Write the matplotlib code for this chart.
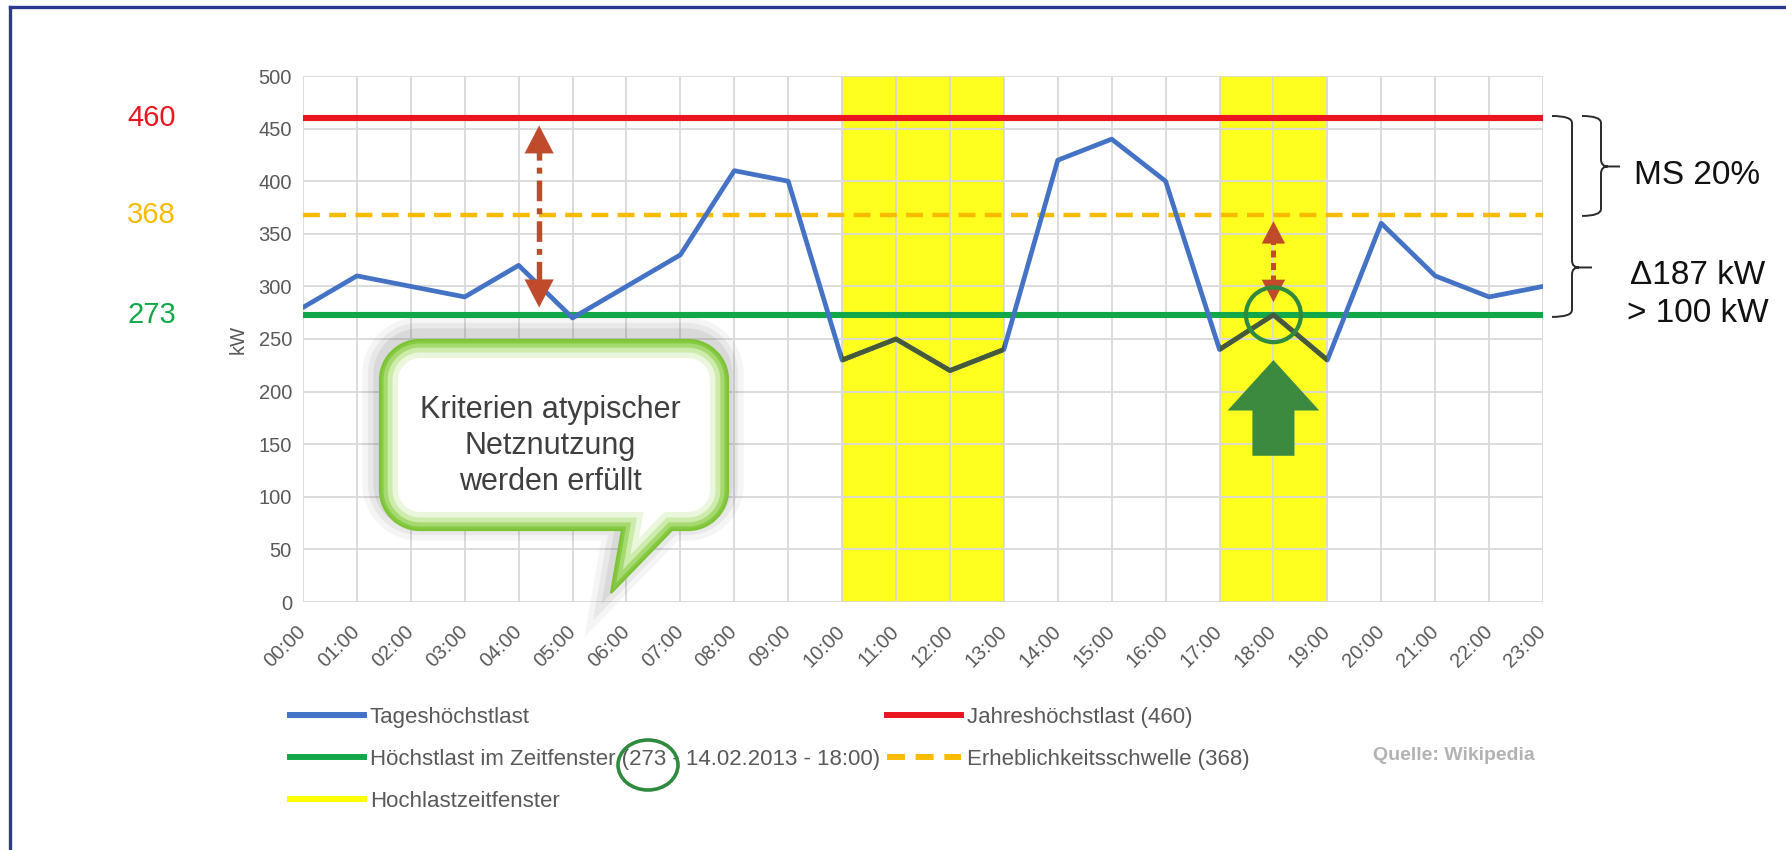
import matplotlib
matplotlib.use("Agg")
import matplotlib.pyplot as plt
import matplotlib.transforms as mtransforms
from matplotlib.path import Path
from matplotlib.patches import PathPatch, Polygon, Ellipse, Rectangle
from matplotlib.lines import Line2D

# ---------------- data ----------------
hours = ["00:00", "01:00", "02:00", "03:00", "04:00", "05:00", "06:00", "07:00",
         "08:00", "09:00", "10:00", "11:00", "12:00", "13:00", "14:00", "15:00",
         "16:00", "17:00", "18:00", "19:00", "20:00", "21:00", "22:00", "23:00"]
load_kw = [280, 310, 300, 290, 320, 270, 300, 330, 410, 400, 230, 250,
           220, 240, 420, 440, 400, 240, 273, 230, 360, 310, 290, 300]
annual_peak = 460
threshold = 368
window_peak = 273
window_peak_idx = 18
high_load_windows = [(10, 13), (17, 19)]
y_ticks = [0, 50, 100, 150, 200, 250, 300, 350, 400, 450, 500]
legend_labels = ["Tageshöchstlast",
                 "Höchstlast im Zeitfenster (273 - 14.02.2013 - 18:00)",
                 "Hochlastzeitfenster",
                 "Jahreshöchstlast (460)",
                 "Erheblichkeitsschwelle (368)"]
level_labels = ["460", "368", "273"]
bubble_lines = ["Kriterien atypischer", "Netznutzung", "werden erfüllt"]

# ---------------- style ----------------
BLUE = "#4472c4"
BLUE_IN_WINDOW = "#46593a"
RED = "#ea1520"
GREEN = "#12a84a"
ORANGE = "#f8bb00"
YELLOW = "#ffff1f"
GREY = "#595959"
GRID = "#d9d9d9"
ARROW_RED = "#bf4a2c"
DARK_GREEN = "#2f8a3e"
NAVY = "#2b3a8f"

plt.rcParams["font.family"] = ["Liberation Sans", "DejaVu Sans"]

W, H = 1786, 850
fig = plt.figure(figsize=(W / 100, H / 100), dpi=100)
fig.patch.set_facecolor("white")
ax = fig.add_axes([303 / W, 1 - 602 / H, (1543 - 303) / W, (602 - 76) / H])

px = mtransforms.Affine2D().scale(1 / W, -1 / H).translate(0, 1) + fig.transFigure
bx = mtransforms.blended_transform_factory(px, ax.transData)

x = list(range(len(hours)))

# bands
for a, b in high_load_windows:
    ax.axvspan(a, b, color=YELLOW, zorder=0.3, lw=0)

# horizontal reference lines
ax.hlines(annual_peak, x[0], x[-1], color=RED, lw=4.4, zorder=2.5)
ax.hlines(window_peak, x[0], x[-1], color=GREEN, lw=4.4, zorder=2.5)
ax.hlines(threshold, x[0], x[-1], color=ORANGE, lw=3.2, zorder=2.6,
          linestyles=[(0, (3.8, 2.1))])

# daily peak load
ax.plot(x, load_kw, color=BLUE, lw=3.4, zorder=3, solid_joinstyle="round",
        solid_capstyle="round")
for a, b in high_load_windows:
    ln, = ax.plot(x, load_kw, color=BLUE_IN_WINDOW, lw=3.4, zorder=3.1,
                  solid_joinstyle="round")
    clip = Rectangle((a, -100), b - a, 800, transform=ax.transData)
    ln.set_clip_path(clip)

# axes styling
ax.set_xlim(x[0], x[-1])
ax.set_ylim(y_ticks[0], y_ticks[-1])
ax.set_yticks(y_ticks)
ax.set_xticks(x)
ax.set_xticklabels(hours, rotation=45, ha="right", va="center",
                   rotation_mode="anchor")
ax.tick_params(axis="both", length=0, labelsize=14.5, labelcolor=GREY)
ax.tick_params(axis="x", pad=19)
ax.tick_params(axis="y", pad=8)
ax.grid(True, color=GRID, lw=1.3)
ax.set_axisbelow(True)
for s in ax.spines.values():
    s.set_visible(False)
ax.set_ylabel("kW", fontsize=14.5, color=GREY, labelpad=8)

# level labels on the left
for txt, val, col in zip(level_labels, [annual_peak, threshold, window_peak],
                         [RED, ORANGE, GREEN]):
    ax.text(176, val, txt, transform=bx, ha="right", va="center",
            fontsize=21, color=col, clip_on=False)

# dash-dot double arrows
def double_arrow(xpos, y0, y1, ls, scale, lw):
    head_kw = scale * 1.389 / 1.052
    ax.plot([xpos, xpos], [y0 + head_kw * 0.9, y1 - head_kw * 0.9], color=ARROW_RED,
            lw=lw, linestyle=ls, zorder=5, solid_capstyle="butt",
            dash_capstyle="butt")
    for tip, sgn in ((y1, -1), (y0, 1)):
        ax.annotate("", xy=(xpos, tip), xytext=(0, sgn * scale),
                    textcoords="offset points",
                    arrowprops=dict(arrowstyle="-|>,head_length=1.0,head_width=0.52",
                                    color=ARROW_RED, lw=0.1, shrinkA=0, shrinkB=0,
                                    mutation_scale=scale),
                    zorder=5)

double_arrow(4.38, 280, 453, (0, (3.8, 1.3, 1.1, 1.3)), 20, 3.9)
double_arrow(window_peak_idx, 285, 362, (0, (1.4, 1.1)), 16, 3.6)

# circle around peak within window
ax.add_patch(Ellipse((window_peak_idx, window_peak), 1.02, 52, fill=False,
                     ec=DARK_GREEN, lw=3.0, zorder=6))

# big green block arrow
cx = window_peak_idx
ax.add_patch(Polygon([(cx, 230), (cx + 0.85, 182), (cx + 0.39, 182), (cx + 0.39, 139),
                      (cx - 0.39, 139), (cx - 0.39, 182), (cx - 0.85, 182)],
                     closed=True, fc="#3b8a3f", ec="none", zorder=6))

# speech bubble
def bubble_path(x0, y0, x1, y1, r, tl, tr, tip):
    k = 0.5523 * r
    verts, codes = [], []
    def M(p): verts.append(p); codes.append(Path.MOVETO)
    def L(p): verts.append(p); codes.append(Path.LINETO)
    def C(c1, c2, p): verts.extend([c1, c2, p]); codes.extend([Path.CURVE4] * 3)
    M((x0 + r, y0)); L((x1 - r, y0))
    C((x1 - r + k, y0), (x1, y0 + r - k), (x1, y0 + r))
    L((x1, y1 - r))
    C((x1, y1 - r + k), (x1 - r + k, y1), (x1 - r, y1))
    L((tr, y1)); L(tip); L((tl, y1)); L((x0 + r, y1))
    C((x0 + r - k, y1), (x0, y1 - r + k), (x0, y1 - r))
    L((x0, y0 + r))
    C((x0, y0 + r - k), (x0 + r - k, y0), (x0 + r, y0))
    verts.append((0, 0)); codes.append(Path.CLOSEPOLY)
    return Path(verts, codes)

bp = bubble_path(380, 340, 728, 530, 40, 622, 672, (611, 593))
shadow_t = mtransforms.Affine2D().translate(-1, -6) + px
for lw_, al in ((24, 0.05), (16, 0.07), (8, 0.09)):
    fig.add_artist(PathPatch(bp, transform=shadow_t, fc="none", ec="#444444",
                             lw=lw_, alpha=al, zorder=7))
base = PathPatch(bp, transform=px, fc="white", ec="none", zorder=7.2)
fig.add_artist(base)
for lw_, col in ((26, "#eaf7dc"), (18, "#cdebab"), (11, "#a6da70"), (5, "#86ca42")):
    p = PathPatch(bp, transform=px, fc="none", ec=col, lw=lw_, zorder=7.3)
    fig.add_artist(p)
    p.set_clip_path(base)
fig.add_artist(PathPatch(bp, transform=px, fc="none", ec="#7cc436", lw=1.6, zorder=7.4))
for line, yb in zip(bubble_lines, [418, 454, 490]):
    fig.text(550 / W, 1 - yb / H, line, ha="center", va="baseline", fontsize=22,
             color="#3f3f3f", zorder=8)

# braces on the right
def brace(x0, xv, xt, ytop, ytip, ybot, r_px=7.0):
    r = r_px / 1.052
    verts = [(x0, ytop), (xv, ytop), (xv, ytop - r), (xv, ytip + r), (xv, ytip),
             (xv + r_px, ytip), (xt, ytip),
             (xv + r_px, ytip), (xv, ytip), (xv, ytip - r), (xv, ybot + r), (xv, ybot),
             (x0, ybot)]
    codes = [Path.MOVETO, Path.CURVE3, Path.CURVE3, Path.LINETO, Path.CURVE3, Path.CURVE3,
             Path.LINETO, Path.MOVETO, Path.CURVE3, Path.CURVE3, Path.LINETO, Path.CURVE3,
             Path.CURVE3]
    fig.add_artist(PathPatch(Path(verts, codes), transform=bx, fc="none", ec="#2a2a2a",
                             lw=1.4, zorder=9))

brace(1552, 1572, 1592, annual_peak + 2, 318, window_peak - 2)
brace(1582, 1601, 1620, annual_peak + 2, (annual_peak + threshold) / 2, threshold - 1)
fig.text(1697 / W, 1 - 184 / H, "MS 20%", ha="center", va="baseline", fontsize=24,
         color="#111111")
fig.text(1698 / W, 1 - 284 / H, "\u0394187 kW", ha="center", va="baseline",
         fontsize=24, color="#111111")
fig.text(1698 / W, 1 - 322 / H, "> 100 kW", ha="center", va="baseline",
         fontsize=24, color="#111111")

# legend
handles = [Line2D([], [], color=BLUE, lw=4.3),
           Line2D([], [], color=GREEN, lw=4.3),
           Line2D([], [], color="#ffff00", lw=4.3),
           Line2D([], [], color=RED, lw=4.3),
           Line2D([], [], color=ORANGE, lw=4.3, linestyle=(0, (3.0, 1.8)))]
fs_px = 16 * 100 / 72
leg = ax.legend(handles=handles, labels=legend_labels, ncol=2, loc="upper left",
                bbox_to_anchor=(290 / W, 1 - 707 / H), bbox_transform=fig.transFigure,
                frameon=False, prop={"family": ["Liberation Sans", "DejaVu Sans"], "size": 16},
                handlelength=74 / fs_px, handletextpad=6 / fs_px,
                columnspacing=7 / fs_px, labelspacing=0.95, borderpad=0,
                borderaxespad=0)
for t in leg.get_texts():
    t.set_color(GREY)
fig.add_artist(Ellipse((648, 765), 60, 50, transform=px, fill=False, ec=DARK_GREEN,
                       lw=2.6, zorder=10))

fig.text(1535 / W, 1 - 760 / H, "Quelle: Wikipedia", ha="right", va="baseline",
         fontsize=14, fontweight="bold", color="#b3b3b3")

# slide frame
fig.add_artist(Line2D([10 / W, 10 / W], [0, 1 - 7 / H], transform=fig.transFigure,
                      color=NAVY, lw=2.4))
fig.add_artist(Line2D([10 / W, 1], [1 - 7 / H, 1 - 7 / H], transform=fig.transFigure,
                      color=NAVY, lw=2.4))

fig.savefig("out.png", dpi=100, facecolor="white")
